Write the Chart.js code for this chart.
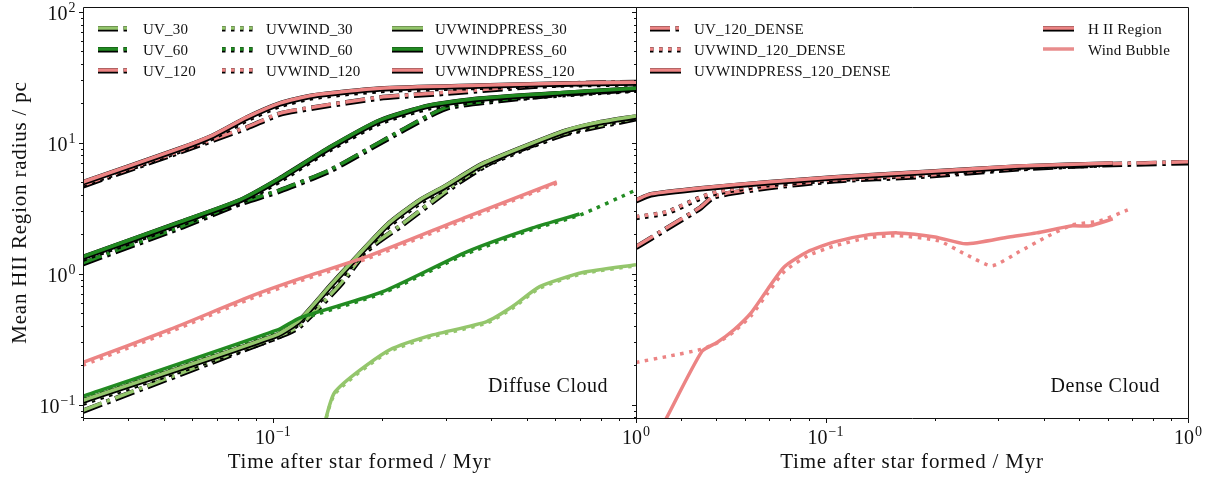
<!DOCTYPE html>
<html>
<head>
<meta charset="utf-8">
<script src="https://cdn.jsdelivr.net/npm/chart.js@4.4.1/dist/chart.umd.min.js"></script>
<style>
  html, body { margin: 0; padding: 0; background: #fff; }
  #wrap { position: relative; width: 1213px; height: 478px; overflow: hidden; }
  #wrap canvas { position: absolute; top: 0; }
</style>
</head>
<body>
<div id="wrap">
  <canvas id="izq" width="670" height="478" style="left:0"></canvas>
  <canvas id="der" width="617" height="478" style="left:596px"></canvas>
</div>
<script>
// tick values and labels (both panels share the same axes)
const xTicks = [0.03,0.04,0.05,0.06,0.07,0.08,0.09,0.1,0.2,0.3,0.4,0.5,0.6,0.7,0.8,0.9,1];
const yTicks = [0.08,0.09,0.1,0.2,0.3,0.4,0.5,0.6,0.7,0.8,0.9,1,2,3,4,5,6,7,8,9,10,20,30,40,50,60,70,80,90,100];
const xLabelTicks = [0.1, 1];
const xLabelExp = ['\u22121', '0'];
const yLabelTicks = [0.1, 1, 10, 100];
const yLabelExp = ['\u22121', '0', '1', '2'];

// Diffuse cloud, H II region radius (time / Myr, radius / pc)
const t_uv30 = [0.03, 0.1093, 0.1187, 0.1528, 0.1815, 0.2236, 0.327, 0.421, 0.644, 1.0];
const r_uv30 = [0.0905, 0.355, 0.402, 0.824, 1.52, 2.32, 5.11, 7.78, 11.9, 15.5];
const t_uv60 = [0.03, 0.0555, 0.0811, 0.1045, 0.1435, 0.197, 0.27, 0.307, 0.42, 0.644, 1.0];
const r_uv60 = [1.21, 2.28, 3.47, 4.35, 6.2, 10.1, 16.3, 19.0, 21.3, 24.0, 25.8];
const t_uv120 = [0.03, 0.0555, 0.0848, 0.1045, 0.1288, 0.197, 0.301, 0.644, 1.0];
const r_uv120 = [4.76, 8.65, 13.2, 16.8, 18.7, 22.3, 24.3, 28.5, 29.3];

const t_uvw30 = [0.03, 0.1026, 0.1187, 0.1462, 0.206, 0.2537, 0.301, 0.371, 0.478, 0.644, 0.793, 1.0];
const r_uvw30 = [0.104, 0.33, 0.43, 0.82, 2.28, 3.52, 4.6, 6.5, 8.8, 12.1, 14.0, 15.6];
const t_uvw60 = [0.03, 0.0555, 0.0811, 0.1045, 0.1435, 0.197, 0.27, 0.371, 0.644, 1.0];
const r_uvw60 = [1.31, 2.41, 3.55, 5.2, 9.0, 14.4, 18.8, 21.3, 23.7, 25.6];
const t_uvw120 = [0.03, 0.0555, 0.0684, 0.0848, 0.1045, 0.1288, 0.197, 0.371, 0.616, 1.0];
const r_uvw120 = [4.85, 8.8, 11.1, 15.2, 19.5, 22.5, 25.4, 26.9, 28.0, 28.6];

const t_uvwp30 = [0.03, 0.1026, 0.1187, 0.1462, 0.206, 0.2537, 0.301, 0.371, 0.478, 0.644, 0.793, 1.0];
const r_uvwp30 = [0.108, 0.343, 0.446, 0.854, 2.36, 3.66, 4.76, 6.77, 9.11, 12.5, 14.4, 16.0];
const t_uvwp60 = [0.03, 0.0555, 0.0811, 0.1045, 0.1435, 0.197, 0.27, 0.371, 0.644, 1.0];
const r_uvwp60 = [1.35, 2.49, 3.66, 5.38, 9.27, 14.9, 19.4, 21.9, 24.3, 26.1];
const t_uvwp120 = [0.03, 0.0555, 0.0684, 0.0848, 0.1045, 0.1288, 0.197, 0.371, 0.616, 1.0];
const r_uvwp120 = [5.02, 9.11, 11.45, 15.7, 20.1, 23.1, 26.1, 27.5, 28.5, 29.0];

// Diffuse cloud, wind bubble radius
const t_uvw30_b = [0.1347, 0.148, 0.2058, 0.265, 0.388, 0.457, 0.543, 0.712, 1.0];
const r_uvw30_b = [0.05, 0.12, 0.248, 0.322, 0.42, 0.545, 0.775, 1.0, 1.15];
const t_uvw60_b = [0.03, 0.1026, 0.1187, 0.2007, 0.342, 0.519, 0.699, 1.0];
const r_uvw60_b = [0.112, 0.36, 0.445, 0.71, 1.42, 2.18, 2.8, 4.36];
const t_uvw120_b = [0.03, 0.0521, 0.0864, 0.1187, 0.1815, 0.342, 0.605];
const r_uvw120_b = [0.2, 0.36, 0.64, 0.88, 1.3, 2.62, 4.9];
const t_uvwp30_b = [0.1347, 0.148, 0.2058, 0.265, 0.388, 0.457, 0.543, 0.712, 1.0];
const r_uvwp30_b = [0.05, 0.124, 0.255, 0.331, 0.431, 0.561, 0.796, 1.02, 1.17];
const t_uvwp60_b = [0.03, 0.1026, 0.1187, 0.2007, 0.342, 0.519, 0.699];
const r_uvwp60_b = [0.1157, 0.37, 0.46, 0.729, 1.47, 2.24, 2.86];
const t_uvwp120_b = [0.03, 0.0521, 0.0864, 0.1187, 0.1815, 0.342, 0.605];
const r_uvwp120_b = [0.21, 0.375, 0.668, 0.916, 1.35, 2.72, 5.02];

// Dense cloud
const t_d_uv = [0.03, 0.0365, 0.0453, 0.0493, 0.0691, 0.1059, 0.18, 0.342, 0.581, 1.0];
const r_d_uv = [1.61, 2.24, 3.24, 3.93, 4.6, 5.2, 5.6, 6.42, 6.88, 7.15];
const t_d_uvw = [0.03, 0.0365, 0.0453, 0.0502, 0.0691, 0.1059, 0.181, 0.342, 0.571];
const r_d_uvw = [2.72, 2.97, 3.86, 4.21, 4.85, 5.29, 5.77, 6.53, 6.88];
const t_d_uvwp = [0.03, 0.033, 0.0453, 0.0691, 0.1059, 0.181, 0.342, 0.62];
const r_d_uvwp = [3.66, 4.07, 4.52, 5.02, 5.48, 5.98, 6.64, 7.0];
const t_d_uvw_b = [0.03, 0.0365, 0.0453, 0.0505, 0.056, 0.0624, 0.0691, 0.077, 0.0892, 0.1059, 0.1307, 0.158, 0.2056, 0.244, 0.288, 0.342, 0.407, 0.48, 0.571, 0.682];
const r_d_uvw_b = [0.21, 0.233, 0.264, 0.298, 0.362, 0.479, 0.704, 1.04, 1.37, 1.63, 1.88, 1.95, 1.78, 1.40, 1.15, 1.47, 1.91, 2.36, 2.53, 3.07];
const t_d_uvwp_b = [0.0334, 0.0365, 0.0456, 0.0502, 0.056, 0.0624, 0.0691, 0.077, 0.0892, 0.1059, 0.1307, 0.158, 0.2004, 0.244, 0.321, 0.382, 0.48, 0.535, 0.62];
const r_d_uvwp_b = [0.05, 0.08, 0.255, 0.298, 0.375, 0.505, 0.755, 1.13, 1.47, 1.75, 1.98, 2.05, 1.91, 1.69, 1.91, 2.05, 2.32, 2.32, 2.62];

const namesLeft = ['UV_30', 'UV_60', 'UV_120', 'UVWIND_30', 'UVWIND_60', 'UVWIND_120', 'UVWINDPRESS_30', 'UVWINDPRESS_60', 'UVWINDPRESS_120'];
const namesRight = ['UV_120_DENSE', 'UVWIND_120_DENSE', 'UVWINDPRESS_120_DENSE', 'H II Region', 'Wind Bubble'];
const xTitle = 'Time after star formed / Myr';
const yTitle = 'Mean HII Region radius / pc';

// styles
const FONT = '"Liberation Serif", "DejaVu Serif", serif';
const C30 = 'rgb(148,198,108)';
const C60 = 'rgb(34,139,34)';
const C120 = 'rgb(236,132,132)';
const DASHDOT = [20, 5.5, 3.5, 5.5];
const DOT = [3.5, 5.5];
const SOLID = [];
const LW = 3.5, LW_OUT = 5.5;

function pts(t, r) {
  return t.map(function(v, i) { return {x: v, y: r[i]}; });
}

// returns datasets, bottom first; outline = black edge under the coloured line
function serie(t, r, color, dash, outline) {
  const base = {
    data: pts(t, r), borderDash: dash, borderCapStyle: 'butt', borderJoinStyle: 'round',
    pointRadius: 0, pointHoverRadius: 0, fill: false, tension: 0.2, clip: 0
  };
  const out = [];
  if (outline) out.push(Object.assign({}, base, {borderColor: '#000', borderWidth: LW_OUT, shift: 0.8}));
  out.push(Object.assign({}, base, {borderColor: color, borderWidth: LW}));
  return out;
}

const leftList = [].concat(
  serie(t_uv30, r_uv30, C30, DASHDOT, true),
  serie(t_uv60, r_uv60, C60, DASHDOT, true),
  serie(t_uv120, r_uv120, C120, DASHDOT, true),
  serie(t_uvw30, r_uvw30, C30, DOT, true),
  serie(t_uvw30_b, r_uvw30_b, C30, DOT, false),
  serie(t_uvw60, r_uvw60, C60, DOT, true),
  serie(t_uvw60_b, r_uvw60_b, C60, DOT, false),
  serie(t_uvw120, r_uvw120, C120, DOT, true),
  serie(t_uvw120_b, r_uvw120_b, C120, DOT, false),
  serie(t_uvwp30, r_uvwp30, C30, SOLID, true),
  serie(t_uvwp30_b, r_uvwp30_b, C30, SOLID, false),
  serie(t_uvwp60, r_uvwp60, C60, SOLID, true),
  serie(t_uvwp60_b, r_uvwp60_b, C60, SOLID, false),
  serie(t_uvwp120, r_uvwp120, C120, SOLID, true),
  serie(t_uvwp120_b, r_uvwp120_b, C120, SOLID, false)
);
const rightList = [].concat(
  serie(t_d_uv, r_d_uv, C120, DASHDOT, true),
  serie(t_d_uvw, r_d_uvw, C120, DOT, true),
  serie(t_d_uvw_b, r_d_uvw_b, C120, DOT, false),
  serie(t_d_uvwp, r_d_uvwp, C120, SOLID, true),
  serie(t_d_uvwp_b, r_d_uvwp_b, C120, SOLID, false)
);

const legendLeft = [
  {col: 0, row: 0, color: C30, dash: DASHDOT, outline: true},
  {col: 0, row: 1, color: C60, dash: DASHDOT, outline: true},
  {col: 0, row: 2, color: C120, dash: DASHDOT, outline: true},
  {col: 1, row: 0, color: C30, dash: DOT, outline: true},
  {col: 1, row: 1, color: C60, dash: DOT, outline: true},
  {col: 1, row: 2, color: C120, dash: DOT, outline: true},
  {col: 2, row: 0, color: C30, dash: SOLID, outline: true},
  {col: 2, row: 1, color: C60, dash: SOLID, outline: true},
  {col: 2, row: 2, color: C120, dash: SOLID, outline: true}
].map(function(e, i) { e.label = namesLeft[i]; return e; });

const legendRight = [
  {col: 0, row: 0, color: C120, dash: DASHDOT, outline: true},
  {col: 0, row: 1, color: C120, dash: DOT, outline: true},
  {col: 0, row: 2, color: C120, dash: SOLID, outline: true},
  {col: 1, row: 0, color: C120, dash: SOLID, outline: true},
  {col: 1, row: 1, color: 'rgb(232,140,140)', dash: SOLID, outline: false}
].map(function(e, i) { e.label = namesRight[i]; return e; });

function isMajor(v) {
  const l = Math.log10(v);
  return Math.abs(l - Math.round(l)) < 1e-6;
}

function powLabel(ctx, x, base, exp, align) {
  ctx.font = '20px ' + FONT;
  const w1 = ctx.measureText('10').width;
  ctx.font = '14px ' + FONT;
  const w2 = ctx.measureText(exp).width;
  const w = w1 + 1 + w2;
  const x0 = align === 'center' ? x - w / 2 : x - w;
  ctx.textAlign = 'left';
  ctx.textBaseline = 'alphabetic';
  ctx.font = '20px ' + FONT;
  ctx.fillText('10', x0, base);
  ctx.font = '14px ' + FONT;
  ctx.fillText(exp, x0 + w1 + 1, base - 8);
}

// frame, ticks, tick labels, titles, legend and the panel note
const panelDecor = {
  id: 'panelDecor',
  beforeDatasetDraw(chart, args) {
    const ds = chart.data.datasets[args.index];
    if (ds.shift) { chart.ctx.save(); chart.ctx.translate(0, ds.shift); }
  },
  afterDatasetDraw(chart, args) {
    const ds = chart.data.datasets[args.index];
    if (ds.shift) chart.ctx.restore();
  },
  afterDraw(chart, args, o) {
    const ctx = chart.ctx, a = chart.chartArea;
    const xs = chart.scales.x, ys = chart.scales.y;
    const L = Math.round(a.left) + 0.5, R = Math.round(a.right) + 0.5;
    const T = Math.round(a.top) + 0.5, B = Math.round(a.bottom) + 0.5;
    ctx.save();
    ctx.strokeStyle = '#111';
    ctx.lineWidth = 1;
    ctx.setLineDash([]);
    ctx.beginPath();
    ctx.rect(L, T, R - L, B - T);
    xTicks.forEach(function(v) {
      const px = Math.round(xs.getPixelForValue(v)) + 0.5;
      ctx.moveTo(px, B); ctx.lineTo(px, B + (isMajor(v) ? 4.5 : 2.5));
    });
    yTicks.forEach(function(v) {
      const py = Math.round(ys.getPixelForValue(v)) + 0.5;
      ctx.moveTo(L, py); ctx.lineTo(L - (isMajor(v) ? 4.5 : 2.5), py);
    });
    ctx.stroke();

    ctx.fillStyle = '#111';
    xLabelTicks.forEach(function(v, i) { powLabel(ctx, xs.getPixelForValue(v), B + 25, xLabelExp[i], 'center'); });
    if (o.yLabels) {
      yLabelTicks.forEach(function(v, i) { powLabel(ctx, L - 8, ys.getPixelForValue(v) + 8, yLabelExp[i], 'right'); });
    }

    // axis titles (computer-modern is wider than the serif we have, so a bit of spacing)
    ctx.font = '21px ' + FONT;
    ctx.letterSpacing = '0.8px';
    ctx.textAlign = 'center';
    ctx.textBaseline = 'alphabetic';
    ctx.fillText(xTitle, (a.left + a.right) / 2, 468);
    if (o.yLabels) {
      ctx.save();
      ctx.translate(26, (a.top + a.bottom) / 2);
      ctx.rotate(-Math.PI / 2);
      ctx.fillText(yTitle, 0, 0);
      ctx.restore();
    }

    // legend
    ctx.letterSpacing = '0.2px';
    const rows = [21, 42, 63];
    o.legend.forEach(function(e) {
      const y = a.top + rows[e.row];
      const x0 = a.left + o.cols[e.col][0], x1 = x0 + 31;
      ctx.lineCap = 'butt';
      ctx.setLineDash(e.dash);
      if (e.outline) {
        ctx.strokeStyle = '#000'; ctx.lineWidth = LW_OUT;
        ctx.beginPath(); ctx.moveTo(x0, y + 0.8); ctx.lineTo(x1, y + 0.8); ctx.stroke();
      }
      ctx.strokeStyle = e.color; ctx.lineWidth = LW;
      ctx.beginPath(); ctx.moveTo(x0, y); ctx.lineTo(x1, y); ctx.stroke();
      ctx.setLineDash([]);
      ctx.font = '15px ' + FONT;
      ctx.textAlign = 'left';
      ctx.textBaseline = 'alphabetic';
      ctx.fillStyle = '#111';
      ctx.fillText(e.label, a.left + o.cols[e.col][1], y + 5.5);
    });

    ctx.font = '20px ' + FONT;
    ctx.letterSpacing = '0.5px';
    ctx.textAlign = 'right';
    ctx.fillText(o.note, a.right - 28, a.bottom - 26);
    ctx.letterSpacing = '0px';
    ctx.restore();
  }
};

function makeChart(id, list, padLeft, padRight, yWidth, decor) {
  const ctx = document.getElementById(id).getContext('2d');
  const config = {
    type: 'line',
    data: {datasets: list.slice().reverse()},
    options: {
      responsive: false, animation: false, events: [], parsing: false,
      layout: {padding: {left: padLeft, right: padRight, top: 7, bottom: 0}},
      plugins: {legend: {display: false}, tooltip: {enabled: false}, panelDecor: decor},
      scales: {
        x: {
          type: 'logarithmic', min: 0.03, max: 1,
          grid: {display: false}, border: {display: false}, ticks: {display: false},
          afterFit: function(s) { s.height = 60; }
        },
        y: {
          type: 'logarithmic', min: 0.079, max: 109,
          grid: {display: false}, border: {display: false}, ticks: {display: false},
          afterFit: function(s) { s.width = yWidth; }
        }
      }
    },
    plugins: [panelDecor]
  };
  return new Chart(ctx, config);
}

makeChart('izq', leftList, 0, 34, 83,
  {yLabels: true, legend: legendLeft, cols: [[15, 60], [139, 183], [309, 352]], note: 'Diffuse Cloud'});
makeChart('der', rightList, 40, 25, 0,
  {yLabels: false, legend: legendRight, cols: [[14, 58], [407, 452]], note: 'Dense Cloud'});
</script>
</body>
</html>
